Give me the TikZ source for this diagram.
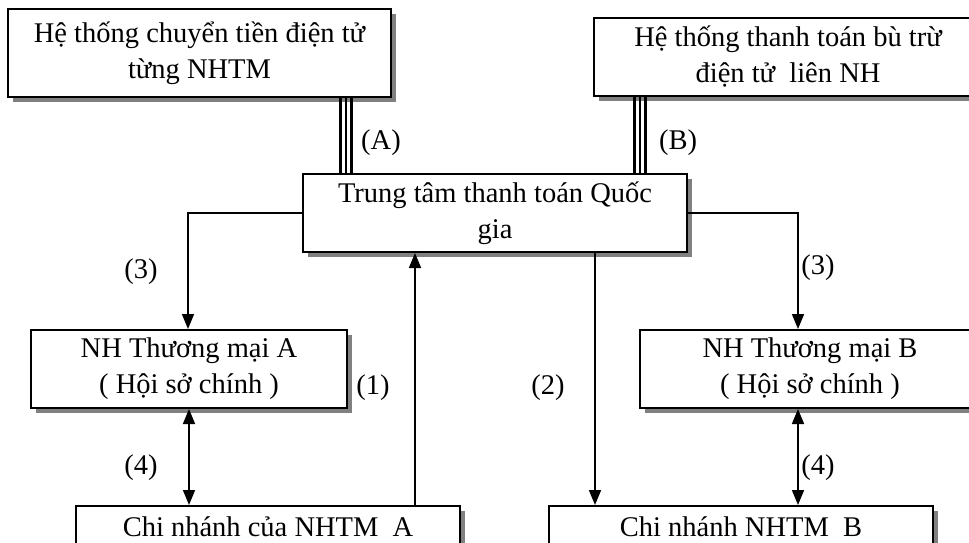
\documentclass[tikz,border=0pt]{standalone}
\usepackage{fontspec}
\setmainfont{Liberation Serif}
\usetikzlibrary{arrows.meta,shadows}
\begin{document}
\begin{tikzpicture}[x=1pt,y=-1pt,
  every node/.style={font=\fontsize{28.5}{36}\selectfont},
  box/.style={draw,line width=2pt,fill=white,inner sep=0pt,align=center,
    drop shadow={shadow xshift=5pt,shadow yshift=-5pt,fill=black!50,opacity=1}},
  link/.style={line width=1.6pt},
  tip/.style={-{Triangle[length=15pt,width=12pt]}},
  both/.style={{Triangle[length=15pt,width=12pt]}-{Triangle[length=15pt,width=12pt]}},
  tag/.style={inner sep=0pt}]
\useasboundingbox (0,0) rectangle (969,543);
\clip (0,0) rectangle (969,543);

% boxes
\node[box,minimum width=383pt,minimum height=88pt] (sys1) at (199.5,53)
  {Hệ thống chuyển tiền điện tử\\từng NHTM};
\node[box,minimum width=388pt,minimum height=78pt] (sys2) at (788,57)
  {Hệ thống thanh toán bù trừ\\điện tử\ \ liên NH};
\node[box,minimum width=384pt,minimum height=78pt] (ctr) at (495,213)
  {Trung tâm thanh toán Quốc\\gia};
\node[box,minimum width=316pt,minimum height=78pt] (bankA) at (189,369)
  {NH Thương mại A\\( Hội sở chính )};
\node[box,minimum width=340pt,minimum height=78pt] (bankB) at (810,369)
  {NH Thương mại B\\( Hội sở chính )};
% branch boxes run past the lower edge; text height fixes the baseline
\node[box,minimum width=384pt,text height=30pt,text depth=40pt,anchor=north] (brA) at (268,505)
  {Chi nhánh của NHTM\ \ A};
\node[box,minimum width=384pt,text height=30pt,text depth=40pt,anchor=north] (brB) at (741,505)
  {Chi nhánh NHTM\ \ B};

% triple links to the national centre
\foreach \d in {-5.5,0,5.5}{
  \draw[line width=2.2pt] ([xshift=\d pt]sys1.south -| 346,0) -- ([xshift=\d pt]ctr.north -| 346,0);
  \draw[line width=2.2pt] ([xshift=\d pt]sys2.south -| 640,0) -- ([xshift=\d pt]ctr.north -| 640,0);
}

% flows
\coordinate (lA) at (188,213);
\coordinate (rB) at (798,213);
\draw[link,tip] (ctr.west) -- (lA) -- (lA |- bankA.north);
\draw[link,tip] (ctr.east) -- (rB) -- (rB |- bankB.north);
\draw[link,tip] (brA.north -| 415,0) -- (ctr.south -| 415,0);
\draw[link,tip] (ctr.south -| 595,0) -- (brB.north -| 595,0);
\draw[link,both] (bankA.south -| 189,0) -- (brA.north -| 189,0);
\draw[link,both] (bankB.south -| 798,0) -- (brB.north -| 798,0);

% labels
\node[tag] (tA) at (381,143) {(A)};
\node[tag] (tB) at (678,143) {(B)};
\node[tag] (t3a) at (141,272) {(3)};
\node[tag] (t3b) at (818,268) {(3)};
\node[tag] (t1) at (373,388) {(1)};
\node[tag] (t2) at (548,388) {(2)};
\node[tag] (t4a) at (141,468) {(4)};
\node[tag] (t4b) at (818,468) {(4)};
\end{tikzpicture}
\end{document}
